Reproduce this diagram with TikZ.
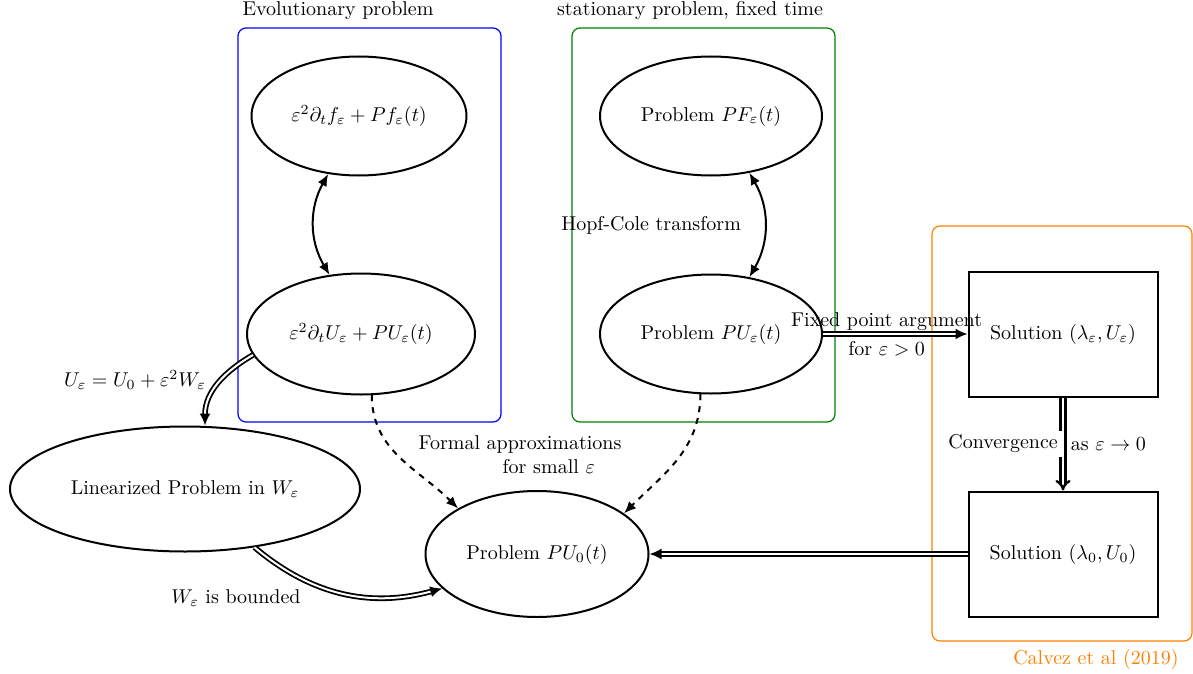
\documentclass[tikz,border=0pt]{standalone}
\usepackage{amsmath}
\usetikzlibrary{shapes.geometric,arrows.meta}

\tikzset{every picture/.style={line width=0.75pt}}
\tikzset{
  prob/.style={draw, ellipse, line width=1pt, inner sep=1pt},
  solbox/.style={draw, rectangle, line width=1pt, minimum width=94.5pt, minimum height=62.5pt},
  dbl/.style={double, line width=0.9pt, double distance=1pt, -{Latex[length=6pt,width=5.5pt]}},
  approx/.style={dashed, line width=1pt, -{Latex[length=6pt,width=5pt]}},
  both/.style={line width=1pt, {Latex[length=6pt,width=5pt]}-{Latex[length=6pt,width=5pt]}},
  groupbox/.style={line width=0.6pt, rounded corners=4pt}
}

\begin{document}
\begin{tikzpicture}[x=0.5pt,y=0.5pt,yscale=-1,xscale=1]
	\useasboundingbox (0,0) rectangle (1193,674);

	%Group boxes
	\draw [groupbox, blue] (238,28) rectangle (501,422) ;
	\draw [groupbox, green!50!black] (572,28) rectangle (835,422) ;
	\draw [groupbox, orange] (932,226) rectangle (1192,641) ;

	% Text Node
	\draw (338,11) node (evoltitle) {Evolutionary problem};
	% Text Node
	\draw (690,11) node (stattitle) {stationary problem, fixed time};
	% Text Node
	\draw (1096,659) node [text=orange] (calvez) {Calvez et al (2019)};

	%Shape: Ellipse
	\draw (359,116) node [prob, minimum width=107.5pt, minimum height=59.5pt] (evolf) {$\varepsilon^2\partial_t f_\varepsilon + P f_\varepsilon(t)$};
	%Shape: Ellipse
	\draw (361,334) node [prob, minimum width=114pt, minimum height=60.5pt] (evolu) {$\varepsilon^2\partial_t U_\varepsilon + P U_\varepsilon(t)$};
	%Shape: Ellipse
	\draw (711,116) node [prob, minimum width=111pt, minimum height=59.5pt] (statf) {Problem $PF_\varepsilon(t)$};
	%Shape: Ellipse
	\draw (711,334) node [prob, minimum width=111pt, minimum height=59.5pt] (statu) {Problem $PU_\varepsilon(t)$};
	%Shape: Ellipse
	\draw (185,489) node [prob, minimum width=175pt, minimum height=62.5pt] (linw) {Linearized Problem in $W_\varepsilon$};
	%Shape: Ellipse
	\draw (537,554) node [prob, minimum width=111.5pt, minimum height=63pt] (limit) {Problem $PU_0(t)$};
	%Shape: Rectangle
	\draw (1063,334) node [solbox] (soleps) {Solution $(\lambda_\varepsilon, U_\varepsilon)$};
	%Shape: Rectangle
	\draw (1063,554) node [solbox] (solzero) {Solution $(\lambda_0, U_0)$};

	%Curve Lines (yscale=-1: angles and bends are mirrored)
	\draw [both] (evolf.-118) to [bend left=30] (evolu.118) ;
	\draw [both] (statf.-56) to [bend right=30] node [midway, left=8pt] (hopf) {Hopf-Cole transform} (statu.56) ;
	\draw [dbl] (evolu.191) to [out=150, in=-90] ([xshift=10pt]linw.north) ;
	\draw [dbl] (linw.-40) to [out=40, in=165] (limit.200) ;
	\draw [approx] (evolu.-80) to [out=90, in=-135] (limit.150) ;
	\draw [approx] (statu.-100) to [out=90, in=-45] (limit.25) ;

	%Straight Lines
	\draw [dbl] (statu.east) -- node [above, pos=0.44, inner sep=1pt] (fixpt) {Fixed point argument} node [below, pos=0.44] (fixcond) {for $\varepsilon > 0$} (soleps.west) ;
	\draw [double, line width=1.2pt, double distance=1.2pt, -{Implies}] (soleps.south) -- node [midway, left, fill=white, inner sep=2pt] (conv) {Convergence} node [midway, right] (convcond) {as $\varepsilon \to 0$} (solzero.north) ;
	\draw [dbl] (solzero.west) -- (limit.east) ;

	% Text Node
	\draw (135,380) node (subst) {$U_\varepsilon = U_0 + \varepsilon^2 W_\varepsilon$};
	% Text Node
	\draw (236,598) node (bounded) {$W_\varepsilon$ is bounded};
	% Text Node
	\draw (520,455) node [align=left] (formal) {Formal approximations\\\hspace*{42pt}for small $\varepsilon$};

\end{tikzpicture}
\end{document}
